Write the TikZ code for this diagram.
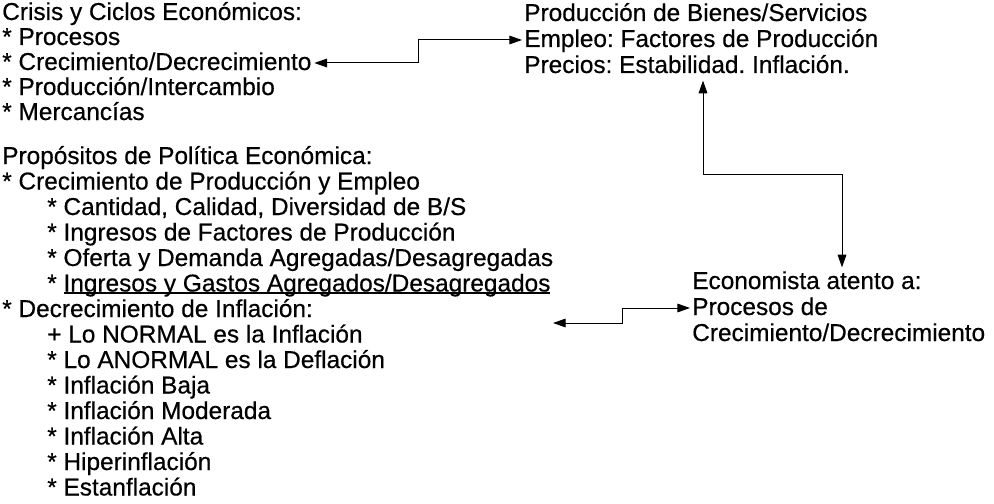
\documentclass[tikz,border=0pt]{standalone}
\usepackage{fontspec}
\setmainfont{Liberation Sans}[RawFeature={embolden=0.5}]
\usepackage{tikz}
\usetikzlibrary{arrows.meta}

\newcommand{\lineunder}[1]{\setbox0\hbox{#1}\rlap{\rule[-1.6pt]{\wd0}{1pt}}\box0}

\tikzset{
  txt/.style={anchor=base west, inner sep=0pt, text height=14pt, text depth=3.5pt, font=\fontsize{18.3}{19}\selectfont},
  conn/.style={line width=0.75pt, {Triangle[length=9.5pt,width=6.5pt]}-{Triangle[length=9.5pt,width=6.5pt]}}
}

\begin{document}
\frenchspacing
\begin{tikzpicture}[x=0.75pt,y=0.75pt,yscale=-1,xscale=1]
\useasboundingbox (0,0) rectangle (994,503);

% Text Node
\draw (2,20) node [txt] (crisis) {Crisis y Ciclos Económicos:};
% Text Node
\draw (2,45) node [txt] (proc) {* Procesos};
% Text Node
\draw (2,70) node [txt] (crec) {* Crecimiento/Decrecimiento};
% Text Node
\draw (2,95) node [txt] (prod) {* Producción/Intercambio};
% Text Node
\draw (2,120) node [txt] (merc) {* Mercancías};

% Text Node
\draw (2,164) node [txt] (prop) {Propósitos de Política Económica:};
% Text Node
\draw (2,189.5) node [txt] (crecprod) {* Crecimiento de Producción y Empleo};
% Text Node
\draw (47,215) node [txt] (cant) {* Cantidad, Calidad, Diversidad de B/S};
% Text Node
\draw (47,240.5) node [txt] (ingfac) {* Ingresos de Factores de Producción};
% Text Node
\draw (47,266) node [txt] (oferta) {* Oferta y Demanda Agregadas/Desagregadas};
% Text Node
\draw (47,291.5) node [txt] (ingg) {* \lineunder{Ingresos y Gastos Agregados/Desagregados}};
% Text Node
\draw (2,317) node [txt] (decinf) {* Decrecimiento de Inflación:};
% Text Node
\draw (47,342.5) node [txt] (normal) {+ Lo NORMAL es la Inflación};
% Text Node
\draw (47,368) node [txt] (anormal) {* Lo ANORMAL es la Deflación};
% Text Node
\draw (47,393.5) node [txt] (baja) {* Inflación Baja};
% Text Node
\draw (47,419) node [txt] (moder) {* Inflación Moderada};
% Text Node
\draw (47,444.5) node [txt] (alta) {* Inflación Alta};
% Text Node
\draw (47,470) node [txt] (hiper) {* Hiperinflación};
% Text Node
\draw (47,495.5) node [txt] (estan) {* Estanflación};

% Text Node
\draw (524,21) node [txt] (bienes) {Producción de Bienes/Servicios};
% Text Node
\draw (524,47) node [txt] (empleo) {Empleo: Factores de Producción};
% Text Node
\draw (524,73) node [txt] (precios) {Precios: Estabilidad. Inflación.};

% Text Node
\draw (692,289) node [txt] (econ) {Economista atento a:};
% Text Node
\draw (692,315) node [txt] (procde) {Procesos de};
% Text Node
\draw (692,341) node [txt] (crecdec) {Crecimiento/Decrecimiento};

% elbows and free end
\coordinate (k1) at (418,0);
\coordinate (k2) at (622,0);
\coordinate (k3a) at (703,174);
\coordinate (k3b) at (842,174);
\coordinate (free) at (553,323);

%Straight Lines
\draw [conn, shorten <=2pt, shorten >=1.5pt] (crec.east) -- (crec.east -| k1) |- (empleo.west);

%Straight Lines
\draw [conn, shorten <=1.5pt] (procde.west) -- (procde.west -| k2) |- (free);

%Straight Lines
\draw [conn, shorten <=2pt, shorten >=2pt] (k3a |- precios.south) -- (k3a) -- (k3b) -- (k3b |- econ.north);

\end{tikzpicture}
\end{document}
